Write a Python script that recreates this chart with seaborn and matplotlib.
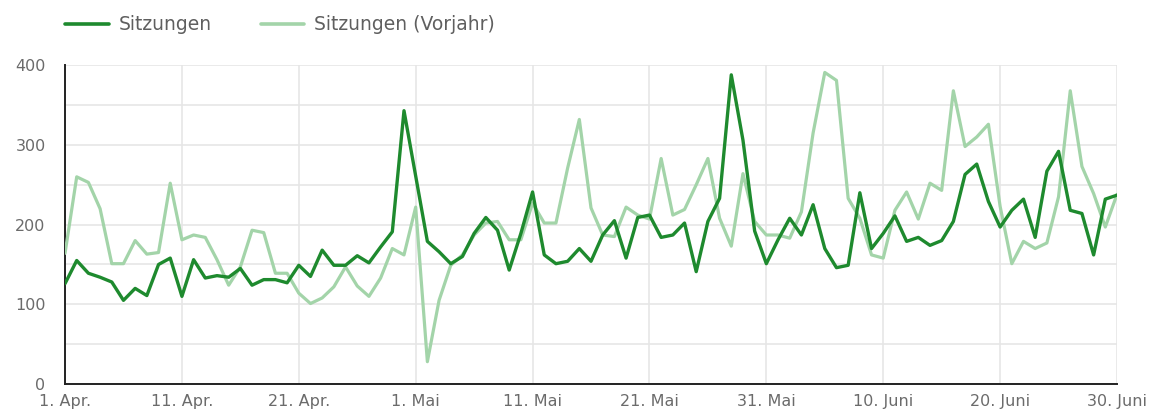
import numpy as np
import pandas as pd
import matplotlib.pyplot as plt
from matplotlib.ticker import MultipleLocator
import seaborn as sns

sns.set_style('white')
plt.rcParams['font.family'] = ['DejaVu Sans']

days = pd.date_range('2020-04-01', '2020-06-30', freq='D')

sitzungen = [126, 155, 139, 134, 128, 105, 120, 111, 150, 158,
             110, 156, 133, 136, 134, 145, 124, 131, 131, 127,
             149, 135, 168, 149, 149, 161, 152, 172, 191, 343,
             261, 179, 166, 151, 160, 189, 209, 193, 143, 189,
             241, 162, 151, 154, 170, 154, 187, 205, 158, 209,
             212, 184, 187, 202, 141, 204, 233, 388, 306, 192,
             151, 181, 208, 187, 225, 170, 146, 149, 240, 170,
             189, 211, 179, 184, 174, 180, 204, 263, 276, 229,
             197, 218, 232, 184, 267, 292, 218, 214, 162, 232, 237]

vorjahr = [164, 260, 253, 220, 151, 151, 180, 163, 165, 252,
           181, 187, 184, 156, 124, 147, 193, 190, 139, 139,
           114, 101, 108, 122, 147, 123, 110, 133, 170, 162,
           222, 28, 105, 149, 162, 187, 202, 204, 181, 181,
           227, 202, 202, 271, 332, 221, 187, 185, 222, 212,
           207, 283, 212, 219, 250, 283, 208, 173, 264, 204,
           187, 187, 183, 216, 315, 391, 381, 233, 208, 162,
           158, 218, 241, 207, 252, 243, 368, 298, 310, 326,
           223, 151, 179, 170, 177, 235, 368, 273, 239, 197, 238]

series_names = ['Sitzungen', 'Sitzungen (Vorjahr)']
tick_dates = pd.date_range('2020-04-01', periods=10, freq='10D')
tick_labels = ['1. Apr.', '11. Apr.', '21. Apr.', '1. Mai', '11. Mai',
               '21. Mai', '31. Mai', '10. Juni', '20. Juni', '30. Juni']

df = pd.DataFrame({'Datum': np.concatenate([days, days]),
                   'Wert': sitzungen + vorjahr,
                   'Reihe': [series_names[0]] * len(days) + [series_names[1]] * len(days)})

farben = {series_names[0]: '#1e8a2e', series_names[1]: '#a3d4a9'}

fig = plt.figure(figsize=(11.55, 4.16), dpi=100)
ax = fig.add_axes([0.0563, 0.0769, 0.9108, 0.7662])

sns.lineplot(data=df, x='Datum', y='Wert', hue='Reihe', hue_order=series_names,
             palette=farben, linewidth=2.3, ax=ax)
ax.lines[0].set_zorder(4)
ax.lines[0].set_linewidth(2.4)
ax.lines[1].set_zorder(3)

ax.set_xlim(days[0], days[-1])
ax.set_ylim(0, 400)
ax.yaxis.set_major_locator(MultipleLocator(100))
ax.yaxis.set_minor_locator(MultipleLocator(50))
ax.set_xticks(tick_dates)
ax.set_xticklabels(tick_labels)
ax.grid(True, which='both', color='#e6e6e6', linewidth=1.2, zorder=0)
ax.set_axisbelow(True)
ax.set_xlabel('')
ax.set_ylabel('')

for s in ['top', 'right']:
    ax.spines[s].set_visible(False)
for s in ['left', 'bottom']:
    ax.spines[s].set_color('#222222')
    ax.spines[s].set_linewidth(1.4)

ax.tick_params(axis='both', which='both', length=0, labelsize=11.5, colors='#6b6b6b')
ax.tick_params(axis='y', pad=14)
ax.tick_params(axis='x', pad=7)

# Legende oben links wie im Original
sns.move_legend(ax, 'center left', bbox_to_anchor=(0.042, 0.94),
                bbox_transform=fig.transFigure, ncol=2, frameon=False, title=None,
                fontsize=13.5, handlelength=2.3, handletextpad=0.55, columnspacing=2.6)
for t in ax.get_legend().get_texts():
    t.set_color('#5f5f5f')
for h in ax.get_legend().legend_handles:
    h.set_linewidth(2.6)

fig.savefig('out.png', dpi=100)
